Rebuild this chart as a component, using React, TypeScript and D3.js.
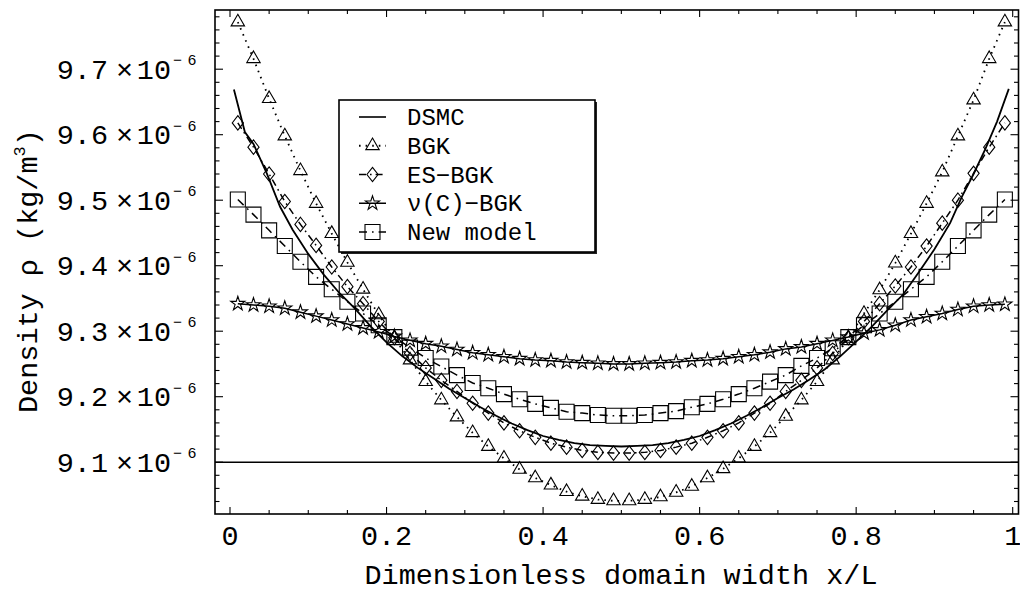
import React from "react";
import * as d3 from "d3";

// ---------- data ----------
const xGrid = [
  0.01, 0.03, 0.05, 0.07, 0.09, 0.11, 0.13, 0.15, 0.17, 0.19,
  0.21, 0.23, 0.25, 0.27, 0.29, 0.31, 0.33, 0.35, 0.37, 0.39,
  0.41, 0.43, 0.45, 0.47, 0.49, 0.51, 0.53, 0.55, 0.57, 0.59,
  0.61, 0.63, 0.65, 0.67, 0.69, 0.71, 0.73, 0.75, 0.77, 0.79,
  0.81, 0.83, 0.85, 0.87, 0.89, 0.91, 0.93, 0.95, 0.97, 0.99,
];

const bgk = [
  9.772, 9.716, 9.655, 9.598, 9.545, 9.495, 9.449, 9.405, 9.364, 9.325,
  9.289, 9.256, 9.223, 9.195, 9.169, 9.145, 9.124, 9.106, 9.089, 9.076,
  9.065, 9.055, 9.048, 9.043, 9.041, 9.041, 9.043, 9.047, 9.054, 9.063,
  9.076, 9.090, 9.106, 9.124, 9.145, 9.170, 9.195, 9.223, 9.256, 9.289,
  9.327, 9.363, 9.404, 9.449, 9.495, 9.543, 9.598, 9.653, 9.716, 9.772,
];

const esBgk = [
  9.618, 9.581, 9.540, 9.498, 9.463, 9.431, 9.398, 9.368, 9.342, 9.315,
  9.290, 9.266, 9.244, 9.225, 9.208, 9.190, 9.175, 9.160, 9.148, 9.138,
  9.129, 9.123, 9.118, 9.115, 9.114, 9.114, 9.115, 9.118, 9.123, 9.129,
  9.138, 9.148, 9.160, 9.175, 9.190, 9.208, 9.225, 9.244, 9.266, 9.290,
  9.315, 9.342, 9.369, 9.398, 9.430, 9.465, 9.500, 9.541, 9.581, 9.618,
];

const nuBgk = [
  9.342, 9.340, 9.338, 9.335, 9.329, 9.323, 9.317, 9.311, 9.305, 9.299,
  9.292, 9.286, 9.281, 9.277, 9.272, 9.267, 9.264, 9.261, 9.258, 9.256,
  9.255, 9.253, 9.252, 9.251, 9.250, 9.250, 9.251, 9.252, 9.253, 9.255,
  9.256, 9.258, 9.261, 9.264, 9.268, 9.273, 9.276, 9.281, 9.286, 9.291,
  9.297, 9.302, 9.309, 9.317, 9.322, 9.327, 9.333, 9.338, 9.340, 9.341,
];

const newModel = [
  9.501, 9.478, 9.454, 9.430, 9.406, 9.383, 9.364, 9.345, 9.327, 9.309,
  9.291, 9.275, 9.259, 9.246, 9.233, 9.221, 9.213, 9.204, 9.196, 9.189,
  9.183, 9.177, 9.175, 9.172, 9.171, 9.171, 9.172, 9.175, 9.178, 9.184,
  9.189, 9.196, 9.204, 9.213, 9.223, 9.233, 9.247, 9.259, 9.274, 9.291,
  9.309, 9.327, 9.345, 9.364, 9.383, 9.406, 9.430, 9.454, 9.478, 9.501,
];

const dsmcX = [
  0.005, 0.019, 0.03, 0.047, 0.064, 0.08, 0.1, 0.12, 0.14, 0.16, 0.18, 0.2,
  0.22, 0.24, 0.26, 0.28, 0.3, 0.32, 0.34, 0.36, 0.38, 0.4, 0.42, 0.44, 0.46,
  0.48, 0.5, 0.52, 0.54, 0.56, 0.58, 0.6, 0.62, 0.64, 0.66, 0.68, 0.7, 0.72,
  0.74, 0.76, 0.78, 0.8, 0.82, 0.84, 0.86, 0.88, 0.9, 0.92, 0.935, 0.95,
  0.965, 0.98, 0.995,
];
const dsmcY = [
  9.669, 9.604, 9.586, 9.541, 9.490, 9.455, 9.418, 9.386, 9.358, 9.334, 9.307, 9.283,
  9.262, 9.244, 9.228, 9.212, 9.198, 9.184, 9.171, 9.159, 9.149, 9.140, 9.134, 9.129, 9.126,
  9.125, 9.124, 9.125, 9.126, 9.129, 9.134, 9.140, 9.149, 9.159, 9.171, 9.184, 9.198, 9.211,
  9.226, 9.242, 9.262, 9.284, 9.307, 9.332, 9.356, 9.390, 9.425, 9.465, 9.505, 9.540,
  9.578, 9.620, 9.670,
];

const xTickValues = [0, 0.2, 0.4, 0.6, 0.8, 1];
const xTickLabels = ["0", "0.2", "0.4", "0.6", "0.8", "1"];
const yTickValues = [9.1, 9.2, 9.3, 9.4, 9.5, 9.6, 9.7];
const yTickLabels = ["9.1", "9.2", "9.3", "9.4", "9.5", "9.6", "9.7"];
const legendLabels = ["DSMC", "BGK", "ES\u2212BGK", "\u03bd(C)\u2212BGK", "New model"];

// ---------- layout ----------
const W = 1020;
const H = 595;
const FL = 215;
const FR = 1018.5;
const FT = 10;
const FB = 514;
const FONT = "'Liberation Mono', 'DejaVu Sans Mono', monospace";

const x = d3.scaleLinear().domain([0, 1]).range([230, 1012.7]);
const y = d3.scaleLinear().domain([9.1, 9.7]).range([462.2, 69.2]);

const xMinor = d3.range(0, 1.0001, 0.05);
const yMinor = d3.range(9.04, 9.781, 0.02);

const triPath = d3.symbol(d3.symbolTriangle, 78)()!;
const starPath = d3.symbol(d3.symbolStar, 62)()!;
const sqPath = "M-7.5,-7.5H7.5V7.5H-7.5Z";
const diaPath = "M0,-7.2L5.6,0L0,7.2L-5.6,0Z";

const lineGen = d3
  .line<[number, number]>()
  .x((d) => x(d[0]))
  .y((d) => y(d[1]));

const pairs = (xs: number[], ys: number[]) => xs.map((v, i) => [v, ys[i]] as [number, number]);

type Series = {
  vals: number[];
  path: string;
  dash: string;
  lw: number;
};

const series: Series[] = [
  { vals: bgk, path: triPath, dash: "1.6 5", lw: 1.8 },
  { vals: esBgk, path: diaPath, dash: "7 4 1.6 4", lw: 1.5 },
  { vals: nuBgk, path: starPath, dash: "none", lw: 1.5 },
  { vals: newModel, path: sqPath, dash: "8 5 1.6 5", lw: 1.5 },
];

function YLabel({ v, label }: { v: number; label: string }) {
  const cy = y(v);
  return (
    <g fontFamily={FONT} fill="#000">
      <text x={108} y={cy + 9.5} fontSize={28.5} textAnchor="end">
        {label}
      </text>
      <text x={124.5} y={cy + 9.5} fontSize={28.5} textAnchor="middle">
        {"\u00d7"}
      </text>
      <text x={171} y={cy + 9.5} fontSize={28.5} textAnchor="end">
        10
      </text>
      <text x={177.5} y={cy - 3.8} fontSize={15} textAnchor="middle">
        {"\u2212"}
      </text>
      <text x={192} y={cy - 3.8} fontSize={15} textAnchor="middle">
        6
      </text>
    </g>
  );
}

export default function App() {
  const legendTop = 100;
  const legendLeft = 339;
  const legendW = 256;
  const legendH = 152;
  const rowY = (i: number) => 117 + i * 28.75;

  return (
    <svg
      width={W}
      height={H}
      viewBox={`0 0 ${W} ${H}`}
      style={{ position: "absolute", left: 0, top: 0, background: "#fff" }}
    >
      <rect x={0} y={0} width={W} height={H} fill="#fff" />
      <defs>
        <clipPath id="plotClip">
          <rect x={FL} y={FT} width={FR - FL} height={FB - FT} />
        </clipPath>
      </defs>

      {/* axis line at 9.1 */}
      <line x1={FL} x2={FR} y1={y(9.1)} y2={y(9.1)} stroke="#000" strokeWidth={1.4} />

      <g clipPath="url(#plotClip)">
        {/* DSMC */}
        <path
          d={lineGen(pairs(dsmcX, dsmcY)) || ""}
          fill="none"
          stroke="#000"
          strokeWidth={1.8}
        />
        {series.map((s, si) => (
          <g key={si}>
            <path
              d={lineGen(pairs(xGrid, s.vals)) || ""}
              fill="none"
              stroke="#000"
              strokeWidth={s.lw}
              strokeDasharray={s.dash}
            />
            {s.vals.map((v, i) => (
              <path
                key={i}
                d={s.path}
                transform={`translate(${x(xGrid[i])},${y(v)})`}
                fill="none"
                stroke="#000"
                strokeWidth={1.1}
              />
            ))}
          </g>
        ))}
      </g>

      {/* frame ticks */}
      <g stroke="#000" strokeWidth={1.1}>
        {xMinor.map((t, i) => {
          const major = Math.abs(t * 5 - Math.round(t * 5)) < 1e-6;
          const len = major ? 7 : 4;
          return (
            <g key={`xt${i}`}>
              <line x1={x(t)} x2={x(t)} y1={FB} y2={FB - len} />
              <line x1={x(t)} x2={x(t)} y1={FT} y2={FT + len} />
            </g>
          );
        })}
        {yMinor.map((t, i) => {
          const major = Math.abs(t * 10 - Math.round(t * 10)) < 1e-6;
          const len = major ? 8 : 4.5;
          return (
            <g key={`yt${i}`}>
              <line x1={FL} x2={FL + len} y1={y(t)} y2={y(t)} />
              <line x1={FR} x2={FR - len} y1={y(t)} y2={y(t)} />
            </g>
          );
        })}
      </g>

      <rect
        x={FL}
        y={FT}
        width={FR - FL}
        height={FB - FT}
        fill="none"
        stroke="#000"
        strokeWidth={1.6}
      />

      {/* x tick labels */}
      {xTickValues.map((t, i) => (
        <text
          key={`xl${i}`}
          x={x(t)}
          y={545}
          fontFamily={FONT}
          fontSize={28.5}
          textAnchor="middle"
          fill="#000"
        >
          {xTickLabels[i]}
        </text>
      ))}

      {/* y tick labels */}
      {yTickValues.map((v, i) => (
        <YLabel key={`yl${i}`} v={v} label={yTickLabels[i]} />
      ))}

      {/* axis titles */}
      <text
        x={621}
        y={584}
        fontFamily={FONT}
        fontSize={28.5}
        textAnchor="middle"
        fill="#000"
      >
        Dimensionless domain width x/L
      </text>
      <text
        transform="translate(37,413) rotate(-90)"
        fontFamily={FONT}
        fontSize={28.5}
        fill="#000"
      >
        {"Density \u03c1 (kg/m"}
        <tspan fontSize={17} dy={-12}>
          3
        </tspan>
        <tspan dy={12}>)</tspan>
      </text>

      {/* legend */}
      <rect
        x={legendLeft + 2}
        y={legendTop + 2}
        width={legendW}
        height={legendH}
        fill="#222"
      />
      <rect
        x={legendLeft}
        y={legendTop}
        width={legendW}
        height={legendH}
        fill="#fff"
        stroke="#000"
        strokeWidth={1.6}
      />
      {legendLabels.map((lab, i) => {
        const cy = rowY(i);
        const s = i === 0 ? null : series[i - 1];
        return (
          <g key={`lg${i}`}>
            <line
              x1={359}
              x2={386}
              y1={cy}
              y2={cy}
              stroke="#000"
              strokeWidth={s ? s.lw : 1.6}
              strokeDasharray={s ? s.dash : "none"}
            />
            {s && (
              <path
                d={s.path}
                transform={`translate(372.5,${cy})`}
                fill="#fff"
                fillOpacity={0}
                stroke="#000"
                strokeWidth={1.1}
              />
            )}
            <text
              x={407}
              y={cy + 8}
              fontFamily={FONT}
              fontSize={24}
              fill="#000"
            >
              {lab}
            </text>
          </g>
        );
      })}
    </svg>
  );
}
